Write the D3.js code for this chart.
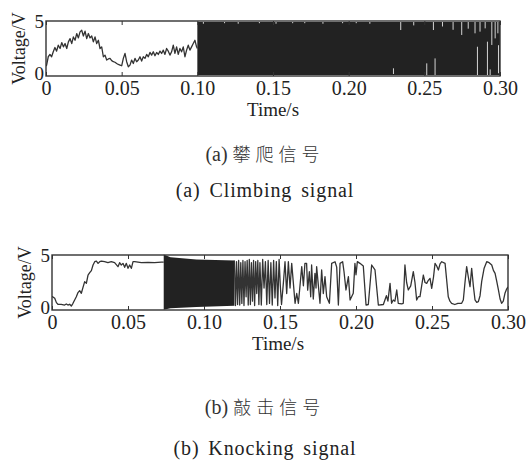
<!DOCTYPE html>
<html>
<head>
<meta charset="utf-8">
<script src="https://cdn.jsdelivr.net/npm/d3@7"></script>
<style>
  body { margin: 0; background: #fff; }
  svg { display: block; }
</style>
</head>
<body>
<svg id="chart" width="526" height="460"></svg>
<script>
const SERIF = '"Liberation Serif"';
const CJK = '"Noto Sans CJK SC"';

// Shared axis values
const xTickValues = [0, 0.05, 0.10, 0.15, 0.20, 0.25, 0.30];
const xTickLabels = ["0", "0.05", "0.10", "0.15", "0.20", "0.25", "0.30"];
const yTickValues = [0, 5];

// (a) climbing signal: slow part [time s, voltage V]
const climbSlow = [
  [0.0000, 0.90], [0.0004, 0.99], [0.0015, 1.75], [0.0026, 1.96], [0.0037, 1.75],
  [0.0048, 2.20], [0.0059, 2.59], [0.0070, 2.26], [0.0081, 2.80], [0.0093, 2.50],
  [0.0104, 3.04], [0.0115, 2.65], [0.0126, 2.95], [0.0137, 2.50], [0.0148, 3.10],
  [0.0159, 3.40], [0.0170, 2.95], [0.0181, 3.55], [0.0192, 3.25], [0.0203, 3.86],
  [0.0214, 3.46], [0.0225, 4.01], [0.0236, 4.16], [0.0247, 3.64], [0.0258, 4.07],
  [0.0269, 3.40], [0.0280, 3.86], [0.0291, 3.46], [0.0302, 3.64], [0.0313, 3.10],
  [0.0324, 3.55], [0.0335, 2.95], [0.0346, 3.25], [0.0357, 2.50], [0.0368, 2.65],
  [0.0379, 1.75], [0.0390, 1.90], [0.0401, 1.45], [0.0412, 1.55], [0.0423, 1.60],
  [0.0434, 1.40], [0.0445, 1.30], [0.0456, 1.25], [0.0467, 1.14], [0.0478, 1.05],
  [0.0489, 0.99], [0.0500, 0.93], [0.0511, 1.60], [0.0522, 2.05], [0.0533, 1.30],
  [0.0544, 0.84], [0.0555, 0.99], [0.0566, 1.45], [0.0577, 1.14], [0.0588, 1.60],
  [0.0599, 1.30], [0.0610, 1.45], [0.0621, 1.75], [0.0632, 1.36], [0.0643, 1.75],
  [0.0654, 1.60], [0.0665, 1.96], [0.0676, 1.75], [0.0687, 2.14], [0.0698, 1.90],
  [0.0709, 2.20], [0.0720, 1.84], [0.0731, 2.14], [0.0742, 1.96], [0.0753, 2.26],
  [0.0764, 2.05], [0.0775, 2.35], [0.0786, 1.96], [0.0797, 2.50], [0.0808, 2.26],
  [0.0819, 1.90], [0.0830, 2.20], [0.0841, 2.80], [0.0852, 2.05], [0.0863, 2.65],
  [0.0874, 1.96], [0.0885, 2.50], [0.0896, 2.20], [0.0907, 2.65], [0.0918, 1.75],
  [0.0929, 2.35], [0.0940, 2.80], [0.0951, 2.35], [0.0962, 2.65], [0.0973, 2.95],
  [0.0984, 3.25], [0.0995, 2.65], [0.1000, 2.50]
];
// dense switching: envelope [time, low, high]
const climbBurst = [[0.1000, 0.10, 4.90], [0.3000, 0.10, 4.90]];
// light slivers inside the dense part [time, from V, to V]
const climbGaps = [
  [0.104, 4.75, 4.95], [0.118, 4.80, 4.95], [0.127, 4.75, 4.95], [0.141, 4.80, 4.95],
  [0.152, 4.75, 4.95], [0.163, 4.80, 4.95], [0.171, 4.80, 4.95], [0.183, 4.75, 4.95],
  [0.196, 4.80, 4.95], [0.205, 4.80, 4.95], [0.214, 4.75, 4.95], [0.2296, 0.18, 0.70],
  [0.2344, 4.18, 4.95], [0.243, 4.60, 4.95], [0.2516, 0.09, 1.15], [0.256, 4.18, 4.95],
  [0.2571, 0.09, 1.60], [0.262, 4.50, 4.95], [0.269, 4.20, 4.95], [0.2747, 3.73, 4.95],
  [0.279, 4.30, 4.95], [0.2835, 3.88, 4.95], [0.2851, 0.09, 2.66], [0.2868, 4.03, 4.95],
  [0.2902, 4.33, 4.95], [0.2917, 0.09, 3.12], [0.2935, 0.09, 0.60], [0.2946, 2.82, 4.95],
  [0.2968, 3.42, 4.95], [0.2986, 3.88, 4.95], [0.2990, 0.25, 2.80]
];

// (b) knocking signal: slow rise
const knockSlow = [
  [0.0000, 1.21], [0.0004, 1.21], [0.0018, 1.06], [0.0029, 0.67], [0.0039, 0.52],
  [0.0061, 0.52], [0.0083, 0.45], [0.0094, 0.55], [0.0105, 0.45], [0.0116, 0.52],
  [0.0127, 0.36], [0.0138, 0.61], [0.0149, 0.91], [0.0160, 1.21], [0.0171, 1.58],
  [0.0182, 1.76], [0.0193, 1.52], [0.0204, 2.06], [0.0215, 2.58], [0.0226, 2.42],
  [0.0237, 3.18], [0.0248, 3.39], [0.0259, 3.58], [0.0270, 4.09], [0.0281, 4.39],
  [0.0292, 4.45], [0.0303, 4.24], [0.0314, 4.39], [0.0325, 4.45], [0.0346, 4.39],
  [0.0368, 4.30], [0.0390, 4.39], [0.0412, 4.30], [0.0434, 3.94], [0.0445, 4.30],
  [0.0456, 4.09], [0.0467, 4.24], [0.0478, 3.88], [0.0489, 4.24], [0.0500, 3.79],
  [0.0511, 4.09], [0.0522, 3.79], [0.0533, 4.39], [0.0544, 4.39], [0.0588, 4.30],
  [0.0632, 4.33], [0.0675, 4.30], [0.0719, 4.36], [0.0735, 4.36]
];
const knockBurst = [
  [0.0735, 0.02, 5.05], [0.0780, 0.15, 4.80], [0.0950, 0.28, 4.60], [0.1200, 0.38, 4.50]
];
// knocking oscillations after the dense burst
const knockWave = [
  [0.1200, 4.50], [0.1207, 0.40], [0.1214, 4.40], [0.1221, 0.50], [0.1228, 4.50],
  [0.1235, 0.45], [0.1242, 4.30], [0.1249, 0.60], [0.1256, 4.50], [0.1263, 0.40],
  [0.1270, 4.40], [0.1277, 1.20], [0.1284, 4.50], [0.1291, 0.45], [0.1298, 4.60],
  [0.1305, 0.50], [0.1312, 4.30], [0.1319, 0.80], [0.1326, 4.50], [0.1333, 0.40],
  [0.1340, 4.40], [0.1347, 1.50], [0.1354, 4.50], [0.1361, 0.50], [0.1368, 4.30],
  [0.1377, 0.45], [0.1386, 4.60], [0.1395, 2.00], [0.1404, 4.40], [0.1413, 0.50],
  [0.1422, 4.50], [0.1431, 0.60], [0.1440, 4.30], [0.1449, 0.45], [0.1458, 4.50],
  [0.1467, 1.10], [0.1476, 4.40], [0.1485, 0.40], [0.1494, 4.60], [0.1502, 2.20],
  [0.1510, 0.50], [0.1522, 2.42], [0.1533, 4.39], [0.1544, 1.50], [0.1555, 4.39],
  [0.1566, 2.00], [0.1577, 4.24], [0.1599, 0.61], [0.1610, 1.50], [0.1621, 0.61],
  [0.1643, 3.94], [0.1654, 2.20], [0.1664, 4.24], [0.1675, 4.24], [0.1682, 1.80],
  [0.1693, 3.48], [0.1702, 1.20], [0.1708, 4.09], [0.1719, 1.00], [0.1730, 3.33],
  [0.1737, 2.00], [0.1741, 3.94], [0.1763, 0.61], [0.1774, 3.64], [0.1785, 1.50],
  [0.1796, 3.03], [0.1807, 1.21], [0.1825, 0.61], [0.1840, 4.24], [0.1862, 4.39],
  [0.1873, 3.90], [0.1884, 0.45], [0.1895, 4.24], [0.1912, 4.39], [0.1921, 3.50],
  [0.1934, 1.82], [0.1950, 3.03], [0.1961, 0.91], [0.1982, 1.52], [0.1993, 4.24],
  [0.2000, 3.20], [0.2009, 4.40], [0.2026, 4.24], [0.2048, 4.00], [0.2066, 0.45],
  [0.2081, 0.50], [0.2103, 4.09], [0.2125, 3.64], [0.2147, 0.45], [0.2180, 0.50],
  [0.2200, 1.30], [0.2210, 0.80], [0.2224, 2.42], [0.2234, 0.61], [0.2245, 0.91],
  [0.2256, 0.80], [0.2268, 1.82], [0.2278, 0.61], [0.2300, 0.55], [0.2311, 0.61],
  [0.2322, 4.09], [0.2333, 2.50], [0.2344, 1.82], [0.2360, 2.20], [0.2377, 3.48],
  [0.2388, 2.50], [0.2399, 0.91], [0.2410, 1.21], [0.2421, 1.21], [0.2443, 3.18],
  [0.2454, 2.50], [0.2465, 2.42], [0.2476, 2.70], [0.2487, 2.88], [0.2498, 1.97],
  [0.2510, 3.00], [0.2520, 4.24], [0.2531, 4.00], [0.2542, 3.64], [0.2553, 4.20],
  [0.2564, 4.39], [0.2586, 4.24], [0.2596, 2.80], [0.2607, 1.21], [0.2618, 0.80],
  [0.2629, 0.61], [0.2650, 0.50], [0.2670, 0.61], [0.2695, 0.61], [0.2706, 0.91],
  [0.2717, 2.50], [0.2728, 3.94], [0.2739, 3.00], [0.2750, 2.12], [0.2761, 3.79],
  [0.2772, 2.20], [0.2783, 0.91], [0.2794, 0.70], [0.2805, 0.76], [0.2816, 1.30],
  [0.2827, 2.60], [0.2843, 3.80], [0.2860, 4.39], [0.2876, 4.30], [0.2893, 4.09],
  [0.2904, 3.60], [0.2915, 3.33], [0.2926, 2.60], [0.2937, 1.82], [0.2948, 1.00],
  [0.2958, 0.61], [0.2969, 0.80], [0.2980, 1.52], [0.2991, 1.90], [0.3000, 2.10]
];
const knockGaps = [];

const svg = d3.select("#chart");
svg.append("rect").attr("width", 526).attr("height", 460).attr("fill", "#fff");

// Draw one panel: box, signal, axes, labels
const drawPanel = (p) => {
  const x = d3.scaleLinear().domain([0, 0.3]).range([p.left, p.right]);
  const y = d3.scaleLinear().domain([0, 5]).range([p.bottom, p.top]);
  const g = svg.append("g");

  const clipId = "clip-" + p.id;
  g.append("clipPath").attr("id", clipId)
    .append("rect")
      .attr("x", p.left).attr("y", p.top - 2)
      .attr("width", p.right - p.left).attr("height", p.bottom - p.top + 4);

  const plot = g.append("g").attr("clip-path", `url(#${clipId})`);

  // dense switching shown as a filled band
  plot.append("path")
    .datum(p.burst)
    .attr("fill", "#222")
    .attr("d", d3.area().x(d => x(d[0])).y0(d => y(d[1])).y1(d => y(d[2])));

  plot.selectAll(".gap")
    .data(p.gaps)
    .enter()
    .append("line")
      .attr("class", "gap")
      .attr("x1", d => x(d[0])).attr("x2", d => x(d[0]))
      .attr("y1", d => y(d[1])).attr("y2", d => y(d[2]))
      .attr("stroke", "#e8e8e8")
      .attr("stroke-width", 0.9);

  const line = d3.line().x(d => x(d[0])).y(d => y(d[1]));
  p.lines.forEach(series => {
    plot.append("path")
      .datum(series)
      .attr("fill", "none")
      .attr("stroke", "#333")
      .attr("stroke-width", 1.3)
      .attr("stroke-linejoin", "round")
      .attr("d", line);
  });

  // box
  g.append("rect")
    .attr("x", p.left).attr("y", p.top)
    .attr("width", p.right - p.left).attr("height", p.bottom - p.top)
    .attr("fill", "none").attr("stroke", "#333").attr("stroke-width", 1.4);

  // bottom axis: inward ticks + labels
  const bottomAxis = d3.axisBottom(x)
    .tickValues(xTickValues)
    .tickFormat((d, i) => xTickLabels[i])
    .tickSizeInner(-4).tickSizeOuter(0).tickPadding(5);
  const bx = g.append("g").attr("transform", `translate(0,${p.bottom})`).call(bottomAxis);
  bx.select(".domain").remove();
  bx.selectAll("line").attr("stroke", "#333");
  bx.selectAll("text").style("font-family", SERIF).style("font-size", "20px").attr("fill", "#222");

  const topAxis = d3.axisTop(x).tickValues(xTickValues).tickFormat("")
    .tickSizeInner(-4).tickSizeOuter(0);
  const tx = g.append("g").attr("transform", `translate(0,${p.top})`).call(topAxis);
  tx.select(".domain").remove();
  tx.selectAll("line").attr("stroke", "#333");

  const leftAxis = d3.axisLeft(y).tickValues(yTickValues)
    .tickFormat(d3.format("d")).tickSize(0).tickPadding(2);
  const ly = g.append("g").attr("transform", `translate(${p.left},0)`).call(leftAxis);
  ly.select(".domain").remove();
  ly.selectAll("text").style("font-family", SERIF).style("font-size", "19px").attr("fill", "#222")
    .attr("dy", d => d === 0 ? "0.2em" : "0.32em");

  // axis titles
  g.append("text")
    .attr("transform", `translate(${p.left - 27},${(p.top + p.bottom) / 2}) rotate(-90)`)
    .attr("text-anchor", "middle").attr("dy", "0.35em")
    .style("font-family", SERIF).style("font-size", "18px")
    .attr("fill", "#222")
    .text("Voltage/V");
  g.append("text")
    .attr("x", p.titleX).attr("y", p.bottom + 40)
    .attr("text-anchor", "middle")
    .style("font-family", SERIF).style("font-size", "19px")
    .attr("fill", "#222")
    .text("Time/s");

  // captions
  g.append("text")
    .attr("x", 265).attr("y", p.capY1)
    .attr("text-anchor", "middle").attr("fill", "#333")
    .style("font-family", SERIF).style("font-size", "20px")
    .call(t => {
      t.append("tspan").text(p.capTag + " ");
      t.append("tspan").attr("letter-spacing", 5)
        .style("font-family", CJK).style("font-size", "18px").style("font-weight", 300)
        .text(p.capZh);
    });
  g.append("text")
    .attr("x", 265).attr("y", p.capY2)
    .attr("text-anchor", "middle").attr("fill", "#222")
    .style("font-family", SERIF).style("font-size", "20px")
    .attr("letter-spacing", 0.9).attr("word-spacing", 3)
    .text(p.capEn);
};

drawPanel({
  id: "a", left: 46, right: 500, top: 21, bottom: 76, titleX: 273,
  lines: [climbSlow], burst: climbBurst, gaps: climbGaps,
  capTag: "(a)", capZh: "攀爬信号", capEn: "(a) Climbing signal", capY1: 161, capY2: 197
});
drawPanel({
  id: "b", left: 52, right: 508, top: 255, bottom: 310, titleX: 278,
  lines: [knockSlow, knockWave], burst: knockBurst, gaps: knockGaps,
  capTag: "(b)", capZh: "敲击信号", capEn: "(b) Knocking signal", capY1: 414, capY2: 455
});
</script>
</body>
</html>
